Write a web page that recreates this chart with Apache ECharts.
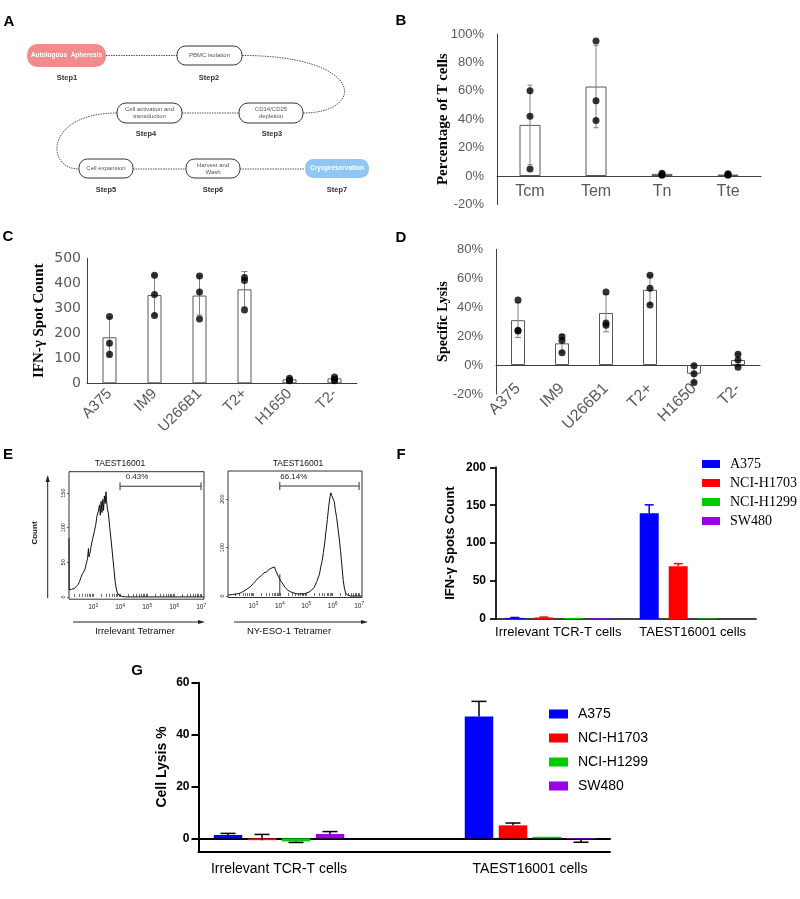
<!DOCTYPE html>
<html><head><meta charset="utf-8">
<script src="https://cdn.jsdelivr.net/npm/echarts@6/dist/echarts.min.js"></script>
<style>html,body{margin:0;padding:0;background:#fff}#c{width:800px;height:899px}</style>
</head><body><div id="c"></div><script>
// ---------- DATA ----------
// Panel B
const bCategories = ['Tcm', 'Tem', 'Tn', 'Tte'];
const bMean = [36, 63, 1.5, 1];
const bSD = [28, 29, 1, 0.6];
const bPoints = [[60, 42, 5], [95, 53, 39], [2, 1, 0.5], [1.5, 1, 0.5]];
// Panel C
const cCategories = ['A375', 'IM9', 'U266B1', 'T2+', 'H1650', 'T2-'];
const cMean = [184, 353, 351, 376, 16, 20];
const cSD = [80, 80, 78, 71, 5, 7];
const cPoints = [[267, 160, 116], [432, 355, 271], [429, 365, 257], [423, 411, 293], [20, 12, 10], [25, 15, 10]];
// Panel D
const dCategories = ['A375', 'IM9', 'U266B1', 'T2+', 'H1650', 'T2-'];
const dMean = [31, 15, 36, 52, -6, 3.5];
const dSD = [12, 6, 13, 10, 6, 4.5];
const dPoints = [[45, 24, 23.5], [19.5, 17, 8.5], [50.5, 29, 27.5], [62, 53, 41.5], [-0.5, -6, -12], [7.5, 3.5, -1.5]];
// Panel E (x = log10 fluorescence, y = count)
const eLeftCurve = [[2.11, 85], [2.115, 10], [2.2, 11], [2.3, 12], [2.38, 15], [2.45, 18], [2.5, 22], [2.55, 28], [2.6, 33],
  [2.65, 36], [2.7, 40], [2.75, 48], [2.8, 56], [2.83, 70], [2.85, 58], [2.9, 66], [2.95, 78], [3.0, 86], [3.05, 95],
  [3.1, 104], [3.15, 118], [3.2, 124], [3.24, 133], [3.27, 118], [3.3, 138], [3.33, 122], [3.36, 141], [3.39, 125],
  [3.42, 146], [3.45, 135], [3.48, 152], [3.5, 140], [3.53, 128], [3.57, 120], [3.62, 100], [3.67, 82], [3.72, 62],
  [3.77, 42], [3.82, 22], [3.87, 10], [3.92, 4], [3.98, 2], [4.05, 1], [4.2, 0], [5.0, 0], [7.11, 0]];
const eRightCurve = [[2.04, 2], [2.2, 3], [2.35, 4], [2.5, 6], [2.6, 9], [2.7, 12], [2.8, 16], [2.9, 20], [3.0, 26],
  [3.1, 32], [3.15, 28], [3.2, 38], [3.3, 42], [3.35, 38], [3.4, 48], [3.5, 50], [3.55, 46], [3.6, 55], [3.65, 52],
  [3.7, 58], [3.75, 54], [3.8, 60], [3.85, 52], [3.9, 48], [3.95, 40], [4.0, 36], [4.05, 30], [4.1, 26], [4.2, 18],
  [4.3, 12], [4.4, 9], [4.5, 7], [4.6, 5], [4.7, 4], [4.8, 5], [4.9, 4], [5.0, 6], [5.1, 8], [5.2, 12], [5.3, 18],
  [5.4, 30], [5.5, 45], [5.55, 60], [5.6, 72], [5.65, 90], [5.7, 110], [5.75, 135], [5.8, 158], [5.85, 185],
  [5.9, 205], [5.93, 213], [5.96, 208], [5.99, 212], [6.02, 200], [6.06, 195], [6.1, 178], [6.15, 162], [6.2, 140],
  [6.25, 118], [6.3, 92], [6.35, 62], [6.4, 32], [6.45, 14], [6.5, 5], [6.6, 1], [6.7, 0], [7.11, 0]];
const eLeftGate = [4, 7, 160, 0];
const eRightGate = [4, 7, 227, 45];
const eGateLabels = ['0.43%', '66.14%'];
const eTitles = ['TAEST16001', 'TAEST16001'];
const eXNames = ['Irrelevant Tetramer', 'NY-ESO-1 Tetramer'];
const eDecadeTicks = [3, 4, 5, 6, 7];
const eLeftYTicks = [0, 50, 100, 150];
const eRightYTicks = [0, 100, 200];
// Panel F
const fCategories = ['Irrelevant TCR-T cells', 'TAEST16001 cells'];
const fSeriesNames = ['A375', 'NCI-H1703', 'NCI-H1299', 'SW480'];
const fA375 = [1.5, 139.5], fA375End = [2, 150.5];
const fH1703 = [2, 69.5], fH1703End = [2.5, 73];
const fH1299 = [1.5, 0.8], fH1299End = [1.5, 0.8];
const fSW480 = [1, 0], fSW480End = [1, 0];
// Panel G
const gCategories = ['Irrelevant TCR-T cells', 'TAEST16001 cells'];
const gSeriesNames = ['A375', 'NCI-H1703', 'NCI-H1299', 'SW480'];
const gA375 = [1.3, 47], gA375End = [1.9, 52.8];
const gH1703 = [-0.7, 5], gH1703End = [1.5, 5.9];
const gH1299 = [-1.2, 0.6], gH1299End = [-1.6, 0.6];
const gSW480 = [1.7, -0.3], gSW480End = [2.6, -1.5];
const gYTicks = [0, 20, 40, 60];

// ---------- STYLE ----------
const SANS = "'Liberation Sans', Arial, sans-serif";
const WIDE = "'DejaVu Sans', sans-serif";
const SERIF = "'Liberation Serif', 'Times New Roman', serif";
const COLORS = ['#0000FF', '#FF0000', '#00CC00', '#9C00E6'];
const GRAY = '#595959';

const flat = arr => arr.flatMap((vals, i) => vals.map(v => [i, v]));

function errRender(capHalf, color) {
  return function (params, api) {
    const a = api.coord([api.value(0), api.value(1)]);
    const b = api.coord([api.value(0), api.value(2)]);
    const st = { stroke: color, lineWidth: 1, fill: null };
    return { type: 'group', children: [
      { type: 'line', shape: { x1: a[0], y1: a[1], x2: b[0], y2: b[1] }, style: st },
      { type: 'line', shape: { x1: a[0] - capHalf, y1: a[1], x2: a[0] + capHalf, y2: a[1] }, style: st },
      { type: 'line', shape: { x1: b[0] - capHalf, y1: b[1], x2: b[0] + capHalf, y2: b[1] }, style: st }
    ] };
  };
}
function groupErr(offset, capHalf, color, lw) {
  return function (params, api) {
    const v = api.value(1), e = api.value(2);
    if (v === e) return null;
    const a = api.coord([api.value(0), v]);
    const b = api.coord([api.value(0), e]);
    const x = a[0] + offset;
    const st = { stroke: color, lineWidth: lw, fill: null };
    return { type: 'group', children: [
      { type: 'line', shape: { x1: x, y1: a[1], x2: x, y2: b[1] }, style: st },
      { type: 'line', shape: { x1: x - capHalf, y1: b[1], x2: x + capHalf, y2: b[1] }, style: st }
    ] };
  };
}
function gateRender(label, labelDx) {
  return function (params, api) {
    const a = api.coord([api.value(0), api.value(2)]);
    const b = api.coord([api.value(1), api.value(2)]);
    const st = { stroke: '#333', lineWidth: 1, fill: null };
    const ch = [
      { type: 'line', shape: { x1: a[0], y1: a[1], x2: b[0], y2: b[1] }, style: st },
      { type: 'line', shape: { x1: a[0], y1: a[1] - 4, x2: a[0], y2: a[1] + 4 }, style: st },
      { type: 'line', shape: { x1: b[0], y1: b[1] - 4, x2: b[0], y2: b[1] + 4 }, style: st },
      { type: 'text', style: { text: label, x: a[0] + labelDx, y: a[1] - 9, fill: '#222', font: '8px ' + SANS,
        textAlign: 'center', textVerticalAlign: 'middle', align: 'center', verticalAlign: 'middle' } }
    ];
    if (api.value(3) > 0) {
      const c0 = api.coord([api.value(0), 0]);
      const c1 = api.coord([api.value(0), api.value(3)]);
      ch.push({ type: 'line', shape: { x1: c0[0], y1: c0[1], x2: c1[0], y2: c1[1] }, style: st });
    }
    return { type: 'group', children: ch };
  };
}
function logTicks(lo, hi) {
  const out = [];
  for (let d = 2; d <= 7; d++) for (let k = 1; k <= 9; k++) {
    const v = d + Math.log10(k);
    if (v >= lo && v <= hi) out.push(v);
  }
  return out;
}

// ---------- GRAPHIC (diagram A, annotations) ----------
const GR = [];
function T(text, x, y, font, fill, extra) {
  GR.push(Object.assign({ type: 'text', silent: true, x: x, y: y, style: { text: text, x: 0, y: 0, font: font, fill: fill || '#000',
    textAlign: 'center', textVerticalAlign: 'middle', align: 'center', verticalAlign: 'middle', lineHeight: 7 } }, extra || {}));
}
function R(x, y, w, h, fill, stroke) {
  GR.push({ type: 'rect', silent: true, shape: { x: x, y: y, width: w, height: h, r: h / 2 - 1 },
    style: { fill: fill, stroke: stroke || null, lineWidth: 1 } });
}
function L(x1, y1, x2, y2, dash, color, lw) {
  GR.push({ type: 'line', silent: true, shape: { x1, y1, x2, y2 }, style: { stroke: color || '#555', lineWidth: lw || 1, lineDash: dash || null } });
}
function BZ(x1, y1, cpx1, cpy1, cpx2, cpy2, x2, y2) {
  GR.push({ type: 'bezierCurve', silent: true, shape: { x1, y1, cpx1, cpy1, cpx2, cpy2, x2, y2 }, style: { stroke: '#555', lineWidth: 1, lineDash: [1.5, 1], fill: null } });
}
function ARROW(points) {
  GR.push({ type: 'polygon', silent: true, shape: { points: points }, style: { fill: '#222' } });
}
// panel letters
const LF = 'bold 15px ' + SANS;
T('A', 9, 22, LF); T('B', 401, 21, LF); T('C', 8, 237, LF); T('D', 401, 238, LF);
T('E', 8, 455, LF); T('F', 401, 455, LF); T('G', 137, 671, LF);
// flowchart connectors
const DASH = [1.5, 1];
L(106, 55.5, 177, 55.5, DASH);
BZ(242, 55.5, 366, 55.5, 366, 113, 303, 113);
L(182, 113, 239, 113, DASH);
BZ(117, 113, 45, 113, 45, 169, 79, 169);
L(133, 169, 186, 169, DASH);
L(240, 169, 305, 169, DASH);
// flowchart boxes
R(27, 44, 79, 23, '#F28B8B');
R(177, 46, 65, 19, '#fff', '#333');
R(239, 103, 64, 20, '#fff', '#333');
R(117, 103, 65, 20, '#fff', '#333');
R(79, 159, 54, 19, '#fff', '#333');
R(186, 159, 54, 19, '#fff', '#333');
R(305, 159, 64, 19, '#90C6F6');
const BF = '6px ' + SANS, BFB = 'bold 6.5px ' + SANS, SF = 'bold 7.5px ' + SANS;
T('Autologous  Apheresis', 66.5, 55.5, BFB, '#fff');
T('PBMC isolation', 209.5, 55.5, BF, '#555');
T('CD14/CD25\ndepletion', 271, 113, BF, '#555');
T('Cell activation and\ntransduction', 149.5, 113, BF, '#555');
T('Cell expansion', 106, 168.5, BF, '#555');
T('Harvest and\nWash', 213, 168.5, BF, '#555');
T('Cryopreservation', 337, 168.5, BFB, '#fff');
T('Step1', 67, 78, SF, '#333'); T('Step2', 209, 78, SF, '#333');
T('Step4', 146, 134, SF, '#333'); T('Step3', 272, 134, SF, '#333');
T('Step5', 106, 190, SF, '#333'); T('Step6', 213, 190, SF, '#333'); T('Step7', 337, 190, SF, '#333');
// panel E annotations
T(eTitles[0], 120, 464, '8.5px ' + SANS, '#111');
T(eTitles[1], 298, 464, '8.5px ' + SANS, '#111');
T(eXNames[0], 135, 631, '9.5px ' + SANS, '#111');
T(eXNames[1], 289, 631, '9.5px ' + SANS, '#111');
T('Count', 35, 533, 'bold 8px ' + SANS, '#111', { rotation: Math.PI / 2 });
L(47.7, 598, 47.7, 480, null, '#222', 1);
ARROW([[47.7, 475], [45.6, 482], [49.8, 482]]);
L(73, 622, 200, 622, null, '#222', 1);
ARROW([[205, 622], [198, 620], [198, 624]]);
L(234, 622, 363, 622, null, '#222', 1);
ARROW([[368, 622], [361, 620], [361, 624]]);

// ---------- AXES ----------
const catAxisBase = (gi, data, extra) => Object.assign({
  gridIndex: gi, type: 'category', data: data,
  axisLine: { lineStyle: { color: '#404040', width: 1 } }, axisTick: { show: false },
  axisLabel: { color: GRAY, fontSize: 16, fontFamily: SANS, margin: -20.4 }
}, extra || {});
const nameStyle = { fontFamily: SERIF, fontWeight: 'bold', fontSize: 15, color: '#000' };

const eXAxis = (gi, min) => ({
  gridIndex: gi, type: 'value', min: min, max: 7.11,
  splitLine: { show: false }, axisLine: { show: false },
  axisTick: { inside: true, length: 3, customValues: logTicks(min, 7.11), lineStyle: { color: '#444', width: 0.8 } },
  axisLabel: { customValues: eDecadeTicks, margin: 4, fontSize: 6.5, color: '#222', fontFamily: SANS,
    formatter: v => '10{s|' + Math.round(v) + '}', rich: { s: { fontSize: 4.5, padding: [0, 0, 4, 0], color: '#222' } } }
});
const eYAxis = (gi, min, max, ticks) => ({
  gridIndex: gi, type: 'value', min: min, max: max,
  splitLine: { show: false }, axisLine: { show: false },
  axisTick: { show: true, length: 2, customValues: ticks, lineStyle: { color: '#444', width: 0.8 } },
  axisLabel: { customValues: ticks, rotate: 90, margin: 3, fontSize: 5.5, color: '#222', fontFamily: SANS }
});
const hidden = (gi, type, min, max) => ({ gridIndex: gi, type: type, min: min, max: max, show: false });

const option = {
  animation: false,
  backgroundColor: '#fff',
  graphic: { elements: GR },
  grid: [
    { left: 497, top: 34, width: 264, height: 170.4, outerBoundsMode: 'none' },
    { left: 87, top: 258.3, width: 270, height: 125, outerBoundsMode: 'none' },
    { left: 496, top: 249.3, width: 264, height: 144.7, outerBoundsMode: 'none' },
    { left: 69, top: 471.7, width: 135, height: 127.5, show: true, borderColor: '#333', borderWidth: 1, backgroundColor: 'transparent', outerBoundsMode: 'none' },
    { left: 228, top: 471, width: 134, height: 126.5, show: true, borderColor: '#333', borderWidth: 1, backgroundColor: 'transparent', outerBoundsMode: 'none' },
    { left: 491.1, top: 467.3, width: 268.8, height: 151.7, outerBoundsMode: 'none' },
    { left: 496, top: 467.3, width: 260, height: 151.7, outerBoundsMode: 'none' },
    { left: 153.5, top: 682.7, width: 502, height: 168.6, outerBoundsMode: 'none' },
    { left: 198.5, top: 682.7, width: 411.5, height: 168.6, outerBoundsMode: 'none' }
  ],
  xAxis: [
    catAxisBase(0, bCategories),
    catAxisBase(1, cCategories, { axisLabel: { color: GRAY, fontSize: 15, fontFamily: SANS, rotate: 45, margin: 8, interval: 0 } }),
    catAxisBase(2, dCategories, { axisLabel: { color: GRAY, fontSize: 16, fontFamily: SANS, rotate: 45, margin: -8, interval: 0 } }),
    eXAxis(3, 2.11),
    eXAxis(4, 2.04),
    { gridIndex: 5, type: 'category', data: fCategories, axisLine: { show: false, onZero: false },
      axisTick: { alignWithLabel: true, length: 5, lineStyle: { color: '#000', width: 1.7 } },
      axisLabel: { fontSize: 13, color: '#000', fontFamily: SANS, margin: 7, interval: 0 } },
    { gridIndex: 6, type: 'value', min: 0, max: 1, axisLine: { show: true, lineStyle: { color: '#000', width: 1.7 } },
      axisTick: { show: false }, axisLabel: { show: false }, splitLine: { show: false } },
    { gridIndex: 7, type: 'category', data: gCategories, axisLine: { show: false, onZero: false },
      axisTick: { alignWithLabel: true, length: 7, lineStyle: { color: '#000', width: 2 } },
      axisLabel: { fontSize: 14, color: '#000', fontFamily: SANS, margin: 11, interval: 0 } },
    { gridIndex: 8, type: 'value', min: 0, max: 1, position: 'bottom', axisLine: { show: true, onZero: false, lineStyle: { color: '#000', width: 2 } },
      axisTick: { show: false }, axisLabel: { show: false }, splitLine: { show: false } },
    { gridIndex: 8, type: 'value', min: 0, max: 1, position: 'top', axisLine: { show: true, onZero: true, lineStyle: { color: '#000', width: 2 } },
      axisTick: { show: false }, axisLabel: { show: false }, splitLine: { show: false } }
  ],
  yAxis: [
    { gridIndex: 0, type: 'value', min: -20, max: 100, interval: 20, splitLine: { show: false },
      axisLine: { show: true, lineStyle: { color: '#404040' } }, axisTick: { show: false },
      axisLabel: { formatter: '{value}%', color: GRAY, fontSize: 13, fontFamily: SANS, margin: 13 },
      name: 'Percentage of T cells', nameLocation: 'middle', nameGap: 46.5, nameMoveOverlap: false, nameTextStyle: nameStyle },
    { gridIndex: 1, type: 'value', min: 0, max: 500, interval: 100, splitLine: { show: false },
      axisLine: { show: true, lineStyle: { color: '#404040' } }, axisTick: { show: false },
      axisLabel: { color: GRAY, fontSize: 14, fontFamily: WIDE, margin: 6 },
      name: 'IFN-γ Spot Count', nameLocation: 'middle', nameGap: 40, nameMoveOverlap: false, nameTextStyle: nameStyle },
    { gridIndex: 2, type: 'value', min: -20, max: 80, interval: 20, splitLine: { show: false },
      axisLine: { show: true, lineStyle: { color: '#404040' } }, axisTick: { show: false },
      axisLabel: { formatter: '{value}%', color: GRAY, fontSize: 13, fontFamily: SANS, margin: 13 },
      name: 'Specific Lysis', nameLocation: 'middle', nameGap: 46, nameMoveOverlap: false,
      nameTextStyle: { fontFamily: SERIF, fontWeight: 'bold', fontSize: 14, color: '#000' } },
    eYAxis(3, -3.3, 181, eLeftYTicks),
    eYAxis(4, -3, 258, eRightYTicks),
    { gridIndex: 5, type: 'value', min: 0, max: 200, interval: 50, offset: -4.9, splitLine: { show: false },
      axisLine: { show: true, lineStyle: { color: '#000', width: 1.7 } },
      axisTick: { show: true, length: 6, lineStyle: { color: '#000', width: 1.7 } },
      axisLabel: { color: '#000', fontWeight: 'bold', fontSize: 12, fontFamily: SANS, margin: 10 },
      name: 'IFN-γ Spots Count', nameLocation: 'middle', nameGap: 39.5, nameMoveOverlap: false,
      nameTextStyle: { fontFamily: SANS, fontWeight: 'bold', fontSize: 13, color: '#000' } },
    hidden(6, 'value', 0, 200),
    { gridIndex: 7, type: 'value', min: -5, max: 60, offset: -45, splitLine: { show: false },
      axisLine: { show: true, lineStyle: { color: '#000', width: 2 } },
      axisTick: { show: true, length: 7, customValues: gYTicks, lineStyle: { color: '#000', width: 2 } },
      axisLabel: { customValues: gYTicks, color: '#000', fontWeight: 'bold', fontSize: 12, fontFamily: SANS, margin: 9 },
      name: 'Cell Lysis %', nameLocation: 'middle', nameGap: 29.8, nameMoveOverlap: false,
      nameTextStyle: { fontFamily: SANS, fontWeight: 'bold', fontSize: 14, color: '#000' } },
    hidden(8, 'value', -5, 60)
  ],
  legend: [
    { data: fSeriesNames, orient: 'vertical', left: 697, top: 452, itemWidth: 18, itemHeight: 8, itemGap: 5, icon: 'rect',
      selectedMode: false, textStyle: { fontFamily: SERIF, fontSize: 14, color: '#000', lineHeight: 14, padding: [0, 0, 0, 5] } },
    { data: gSeriesNames, orient: 'vertical', left: 544, top: 702, itemWidth: 19, itemHeight: 9, itemGap: 10, icon: 'rect',
      selectedMode: false, textStyle: { fontFamily: SANS, fontSize: 14, color: '#000', lineHeight: 14, padding: [0, 0, 0, 5] } }
  ],
  series: []
};

// B, C, D series
[[0, bMean, bSD, bPoints, 21, 2.5], [1, cMean, cSD, cPoints, 14, 3], [2, dMean, dSD, dPoints, 14, 3]].forEach(([ax, mean, sd, pts, bw, cap]) => {
  option.series.push({ type: 'bar', xAxisIndex: ax, yAxisIndex: ax, data: mean, barWidth: bw, silent: true,
    itemStyle: { color: '#fff', borderColor: GRAY, borderWidth: 1 } });
  option.series.push({ type: 'custom', xAxisIndex: ax, yAxisIndex: ax, renderItem: errRender(cap, '#808080'), silent: true,
    data: mean.map((m, i) => [i, m - sd[i], m + sd[i]]), encode: { x: 0, y: [1, 2] }, z: 3 });
  option.series.push({ type: 'scatter', xAxisIndex: ax, yAxisIndex: ax, data: flat(pts), symbolSize: 7, silent: true,
    itemStyle: { color: '#000' }, z: 4 });
});
// E series
option.series.push({ type: 'line', xAxisIndex: 3, yAxisIndex: 3, data: eLeftCurve, showSymbol: false, silent: true, lineStyle: { color: '#111', width: 1 } });
option.series.push({ type: 'custom', xAxisIndex: 3, yAxisIndex: 3, renderItem: gateRender(eGateLabels[0], 17), data: [eLeftGate], silent: true });
option.series.push({ type: 'line', xAxisIndex: 4, yAxisIndex: 4, data: eRightCurve, showSymbol: false, silent: true, lineStyle: { color: '#111', width: 1 } });
option.series.push({ type: 'custom', xAxisIndex: 4, yAxisIndex: 4, renderItem: gateRender(eGateLabels[1], 14), data: [eRightGate], silent: true });
// F series
const fVals = [fA375, fH1703, fH1299, fSW480], fEnds = [fA375End, fH1703End, fH1299End, fSW480End];
fVals.forEach((vals, s) => option.series.push({ type: 'bar', name: fSeriesNames[s], xAxisIndex: 5, yAxisIndex: 5, data: vals,
  barWidth: 19, barGap: '52.6%', itemStyle: { color: COLORS[s] }, silent: true }));
fVals.forEach((vals, s) => option.series.push({ type: 'custom', xAxisIndex: 5, yAxisIndex: 5, silent: true, z: 3,
  renderItem: groupErr((s - 1.5) * 29, 4.5, COLORS[s], 1.5), data: vals.map((v, i) => [i, v, fEnds[s][i]]), encode: { x: 0, y: [1, 2] } }));
// G series
const gVals = [gA375, gH1703, gH1299, gSW480], gEnds = [gA375End, gH1703End, gH1299End, gSW480End];
gVals.forEach((vals, s) => option.series.push({ type: 'bar', name: gSeriesNames[s], xAxisIndex: 7, yAxisIndex: 7, data: vals,
  barWidth: 28.5, barGap: '19.3%', itemStyle: { color: COLORS[s] }, silent: true }));
gVals.forEach((vals, s) => option.series.push({ type: 'custom', xAxisIndex: 7, yAxisIndex: 7, silent: true, z: 3,
  renderItem: groupErr((s - 1.5) * 34, 7.5, '#000', 1.5), data: vals.map((v, i) => [i, v, gEnds[s][i]]), encode: { x: 0, y: [1, 2] } }));

const chart = echarts.init(document.getElementById('c'), null, { renderer: 'canvas' });
chart.setOption(option);
</script></body></html>
